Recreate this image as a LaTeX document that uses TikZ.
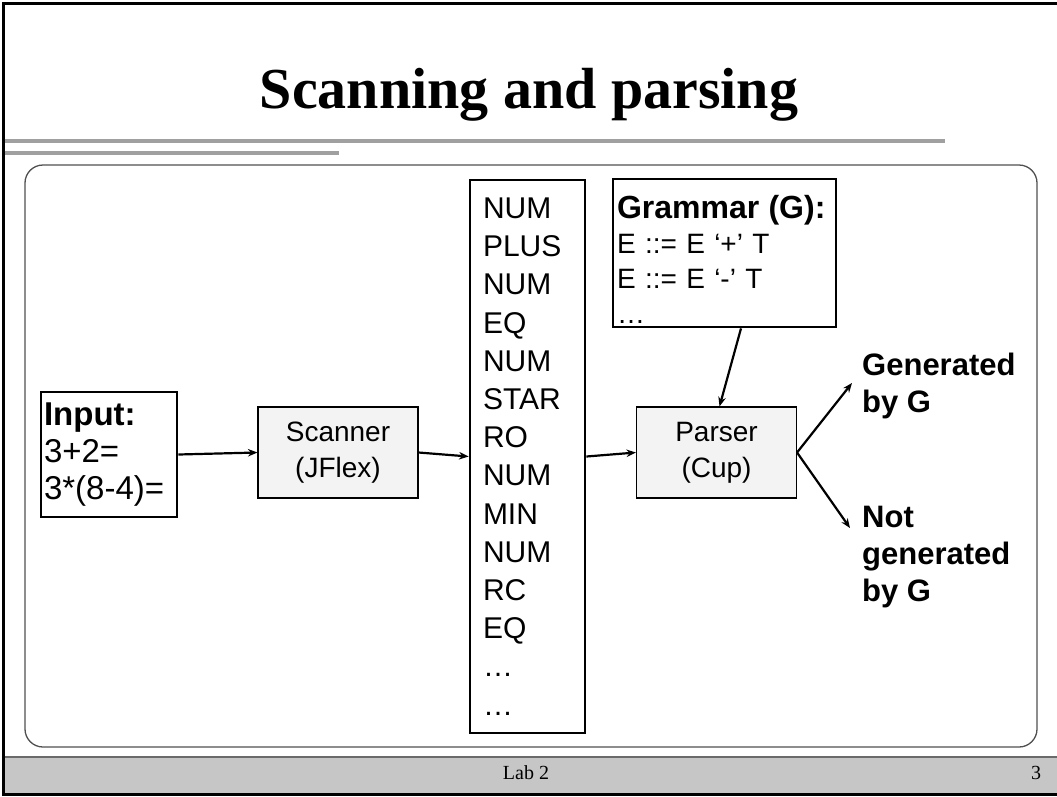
\documentclass[tikz,border=0pt]{standalone}
\usepackage{fontspec}
\setmainfont{Liberation Serif}
\newfontfamily\arialfont{Liberation Sans}
\usetikzlibrary{arrows.meta,calc}

\definecolor{rulegray}{HTML}{A0A0A0}
\definecolor{panelline}{HTML}{505050}
\definecolor{footfill}{HTML}{C6C6C6}
\definecolor{footline}{HTML}{6A6A6A}
\definecolor{procfill}{HTML}{F3F3F3}

\tikzset{
  listbox/.style={draw=black, line width=2.8pt, inner ysep=0pt, align=left,
                  font=\arialfont},
  procbox/.style={draw=black, line width=1.1pt, fill=procfill, inner sep=0pt,
                  align=center, minimum width=160pt, minimum height=91pt,
                  font=\arialfont\fontsize{28}{36}\selectfont},
  flow/.style={line width=2.2pt, -{Stealth[length=9.5pt,width=7.5pt]}},
  outcome/.style={font=\arialfont\bfseries\fontsize{31}{37}\selectfont,
                  align=left, inner sep=0pt, anchor=north west},
}

\begin{document}
\begin{tikzpicture}[x=1pt,y=-1pt]
  \useasboundingbox (0,0) rectangle (1057,796);

  % slide frame
  \fill[footfill] (3,757) rectangle (1057,794);
  \draw[footline, line width=2pt] (3,757) -- (1057,757);
  \draw[black, line width=3pt] (3,3.5) -- (1057,3.5);
  \draw[black, line width=3pt] (3,794.5) -- (1057,794.5);
  \draw[black, line width=3pt] (3,2) -- (3,796);

  % title and rules under it
  \node[anchor=base, inner sep=0pt, font=\bfseries\fontsize{58}{64}\selectfont]
    (title) at (529,108) {Scanning and parsing};
  \draw[rulegray, line width=4pt] (4.5,141) -- (945,141);
  \draw[rulegray, line width=4pt] (4.5,152.5) -- (339,152.5);

  % content panel
  \draw[panelline, line width=1.3pt, rounded corners=18pt] (25,165) rectangle (1037,747);

  % input text
  \node[listbox, inner xsep=3pt, text width=130pt, minimum height=125pt,
        font=\arialfont\fontsize{33}{37}\selectfont]
    (in) at (109,454.5) {\textbf{Input:}\\3+2=\\3*(8-4)=};

  % scanner
  \node[procbox] (scan) at (338,452.5) {Scanner\\(JFlex)};

  % token stream
  \node[listbox, inner xsep=13pt, text width=89pt, minimum height=553pt,
        font=\arialfont\fontsize{30}{38.2}\selectfont]
    (tok) at (527.5,456.5)
    {NUM\\PLUS\\NUM\\EQ\\NUM\\STAR\\RO\\NUM\\MIN\\NUM\\RC\\EQ\\…\\…};

  % grammar (an empty first line pads the text block towards the top)
  \node[listbox, inner xsep=4pt, text width=215pt, minimum height=148pt,
        font=\arialfont\fontsize{28}{35}\selectfont]
    (gram) at (724.5,253)
    {\mbox{}\\[1pt]{\bfseries\fontsize{32}{35}\selectfont Grammar (G):}\\E ::= E ‘+’ T\\E ::= E ‘-’ T\\…};

  % parser
  \node[procbox] (par) at (716.5,452.5) {Parser\\(Cup)};

  % outcomes
  \node[outcome] (gen) at (862,353) {Generated\\by G};
  \node[outcome] (notgen) at (862,506) {Not\\generated\\by G};
  \coordinate (gtip) at (852,383);
  \coordinate (ntip) at (850,528);

  % connectors
  \draw[flow] (in.east) -- (scan.west);
  \draw[flow] (scan.east) -- (tok.west);
  \draw[flow] (tok.east) -- (par.west);
  \draw[flow] ($(gram.south)+(16.5,0)$) -- ($(par.north)+(3,0)$);
  \draw[flow] (par.east) -- (gtip);
  \draw[flow] (par.east) -- (ntip);

  % footer
  \node[inner sep=0pt, font=\fontsize{20}{24}\selectfont] (foot) at (526,773) {Lab 2};
  \node[inner sep=0pt, font=\fontsize{20}{24}\selectfont] (page) at (1036,773) {3};
\end{tikzpicture}
\end{document}
